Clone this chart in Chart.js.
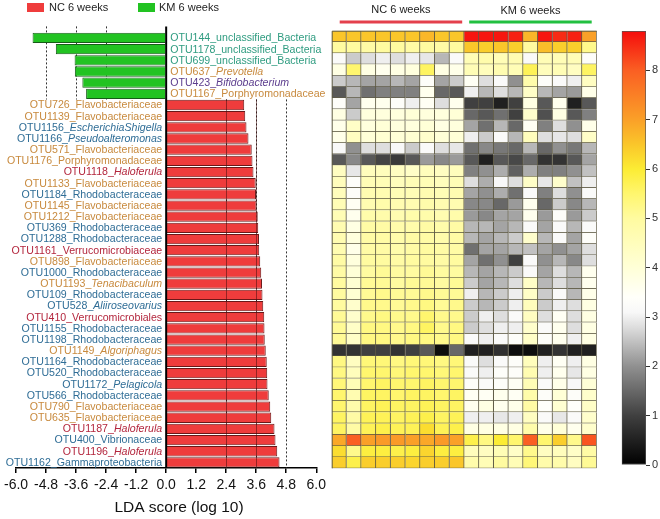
<!DOCTYPE html>
<html lang="en">
<head>
<meta charset="utf-8">
<title>LEfSe NC vs KM 6 weeks</title>
<style>
  body { margin: 0; background: #fff; }
  #wrap { position: relative; width: 660px; height: 519px; overflow: hidden; }
  canvas { position: absolute; top: 0; }
  #ldaChart { left: 0; }
  #heatChart { left: 325px; }
  #scaleChart { left: 605px; }
</style>
</head>
<body>
<div id="wrap">
  <canvas id="ldaChart" width="330" height="519"></canvas>
  <canvas id="heatChart" width="280" height="519"></canvas>
  <canvas id="scaleChart" width="55" height="519"></canvas>
</div>

<script src="https://cdn.jsdelivr.net/npm/chart.js@4.4.1/dist/chart.umd.min.js"></script>
<script>
// ---- data ----
const otuIds = ['OTU144','OTU1178','OTU699','OTU637','OTU423','OTU1167','OTU726','OTU1139','OTU1156','OTU1166',
  'OTU571','OTU1176','OTU1118','OTU1133','OTU1184','OTU1145','OTU1212','OTU369','OTU1288','OTU1161',
  'OTU898','OTU1000','OTU1193','OTU109','OTU528','OTU410','OTU1155','OTU1198','OTU1149','OTU1164',
  'OTU520','OTU1172','OTU566','OTU790','OTU635','OTU1187','OTU400','OTU1196','OTU1162'];

const taxa = ['unclassified_Bacteria','unclassified_Bacteria','unclassified_Bacteria','Prevotella','Bifidobacterium',
  'Porphyromonadaceae','Flavobacteriaceae','Flavobacteriaceae','EscherichiaShigella','Pseudoalteromonas',
  'Flavobacteriaceae','Porphyromonadaceae','Haloferula','Flavobacteriaceae','Rhodobacteraceae',
  'Flavobacteriaceae','Flavobacteriaceae','Rhodobacteraceae','Rhodobacteraceae','Verrucomicrobiaceae',
  'Flavobacteriaceae','Rhodobacteraceae','Tenacibaculum','Rhodobacteraceae','Aliiroseovarius',
  'Verrucomicrobiales','Rhodobacteraceae','Rhodobacteraceae','Algoriphagus','Rhodobacteraceae',
  'Rhodobacteraceae','Pelagicola','Rhodobacteraceae','Flavobacteriaceae','Flavobacteriaceae',
  'Haloferula','Vibrionaceae','Haloferula','Gammaproteobacteria'];

// genus-level names are set in italics
const isGenus = [false,false,false,true,true,false,false,false,true,true,
  false,false,true,false,false,false,false,false,false,false,
  false,false,true,false,true,false,false,false,true,false,
  false,true,false,false,false,true,false,true,false];

const phylum = ['Unclassified','Unclassified','Unclassified','Bacteroidetes','Actinobacteria','Bacteroidetes',
  'Bacteroidetes','Bacteroidetes','Proteobacteria','Proteobacteria','Bacteroidetes','Bacteroidetes',
  'Verrucomicrobia','Bacteroidetes','Proteobacteria','Bacteroidetes','Bacteroidetes','Proteobacteria',
  'Proteobacteria','Verrucomicrobia','Bacteroidetes','Proteobacteria','Bacteroidetes','Proteobacteria',
  'Proteobacteria','Verrucomicrobia','Proteobacteria','Proteobacteria','Bacteroidetes','Proteobacteria',
  'Proteobacteria','Proteobacteria','Proteobacteria','Bacteroidetes','Bacteroidetes','Verrucomicrobia',
  'Proteobacteria','Verrucomicrobia','Proteobacteria'];

const enrichedIn = ['KM','KM','KM','KM','KM','KM'].concat(Array(33).fill('NC'));

const ldaScore = [5.34, 4.41, 3.66, 3.65, 3.35, 3.20,
  3.12, 3.16, 3.21, 3.29, 3.42, 3.45, 3.49, 3.58, 3.59, 3.61, 3.66, 3.68, 3.71, 3.72,
  3.76, 3.80, 3.83, 3.85, 3.88, 3.92, 3.93, 3.94, 3.98, 4.02, 4.04, 4.05, 4.10, 4.16,
  4.20, 4.33, 4.37, 4.44, 4.53];

const groupNames = ['NC 6 weeks', 'KM 6 weeks'];
const sampleNames = ['NC1','NC2','NC3','NC4','NC5','NC6','NC7','NC8','NC9',
  'KM1','KM2','KM3','KM4','KM5','KM6','KM7','KM8','KM9'];

// log abundance per OTU row, NC samples
const ncAbundance = [
  [6.5,6.5,6.5,6.5,6.5,6.5,6.7,6.5,6.5],
  [5.0,5.0,4.9,5.0,5.0,4.9,5.0,4.9,5.0],
  [3.2,2.6,2.8,3.0,2.8,3.0,2.9,2.4,3.2],
  [3.8,5.5,3.8,3.6,3.8,3.9,5.6,3.8,3.7],
  [2.6,2.4,2.2,2.2,2.4,2.2,3.3,2.2,2.6],
  [1.3,2.4,1.6,1.8,1.8,1.8,3.6,1.5,1.3],
  [3.3,2.2,3.6,3.6,3.3,3.0,3.5,2.8,3.6],
  [3.8,2.6,3.9,3.9,3.9,4.0,3.9,3.9,4.0],
  [3.7,4.3,3.9,4.0,3.9,3.9,4.0,3.8,3.9],
  [3.7,4.4,4.0,4.1,4.0,4.1,4.2,4.0,4.0],
  [3.1,2.0,2.8,2.8,3.1,2.6,3.2,2.8,2.9],
  [1.3,1.9,1.3,1.05,0.9,1.3,2.1,1.9,2.1],
  [4.4,2.9,4.5,4.5,4.4,4.3,4.5,4.4,4.5],
  [4.5,3.3,4.6,4.6,4.5,4.6,4.6,4.5,4.6],
  [4.5,3.3,4.7,4.7,4.6,4.6,4.7,4.6,4.7],
  [4.6,3.5,4.7,4.8,4.7,4.7,4.8,4.7,4.7],
  [4.6,3.6,4.8,4.8,4.7,4.8,4.8,4.7,4.8],
  [4.7,3.8,4.9,4.9,4.8,4.8,4.9,4.8,4.9],
  [4.7,3.9,4.9,4.9,4.8,4.9,4.9,4.8,4.9],
  [4.7,3.7,4.9,4.9,4.8,4.9,5.0,4.9,4.9],
  [4.9,3.9,5.0,5.0,4.9,5.0,5.0,4.9,5.0],
  [4.9,4.0,5.0,5.1,5.0,5.0,5.1,5.0,5.0],
  [5.0,4.1,5.1,5.1,5.0,5.1,5.1,5.0,5.1],
  [5.0,4.1,5.1,5.2,5.1,5.1,5.2,5.1,5.1],
  [5.0,4.2,5.2,5.2,5.1,5.2,5.3,5.1,5.2],
  [5.1,4.2,5.2,5.3,5.2,5.2,5.5,5.2,5.2],
  [5.1,4.3,5.3,5.3,5.2,5.3,5.6,5.2,5.3],
  [5.1,4.3,5.3,5.3,5.2,5.3,5.3,5.2,5.3],
  [0.8,0.8,1.0,1.0,0.8,1.0,1.3,0.2,1.5],
  [5.3,4.4,5.4,5.4,5.3,5.4,5.4,5.3,5.4],
  [5.3,4.5,5.5,5.5,5.4,5.5,5.5,5.4,5.5],
  [5.4,4.6,5.5,5.6,5.5,5.5,5.6,5.5,5.5],
  [5.5,4.7,5.6,5.6,5.5,5.6,5.6,5.5,5.6],
  [5.5,4.8,5.6,5.7,5.6,5.6,5.7,5.6,5.6],
  [5.6,4.9,5.7,5.7,5.6,5.7,5.8,5.6,5.7],
  [5.6,4.9,5.7,5.8,5.7,5.7,6.2,5.7,5.8],
  [6.9,8.0,7.0,7.1,7.1,7.0,6.9,7.1,7.0],
  [6.2,5.2,5.9,5.9,5.8,5.9,6.3,5.9,5.9],
  [6.4,5.8,6.4,6.4,6.4,6.3,6.4,6.4,6.5]
];

// log abundance per OTU row, KM samples
const kmAbundance = [
  [8.7,8.7,8.7,8.6,6.7,8.7,8.5,8.6,7.0],
  [6.5,6.4,6.5,6.4,5.0,6.6,6.4,6.4,5.2],
  [4.6,4.8,4.6,4.7,3.2,4.6,4.6,4.6,3.3],
  [4.6,4.5,4.7,4.6,5.7,4.5,4.6,4.4,5.6],
  [3.5,2.8,3.2,2.0,4.8,3.3,3.2,3.0,4.4],
  [3.0,2.4,2.8,2.4,4.3,2.4,2.2,2.1,3.7],
  [1.0,1.0,0.5,1.0,3.8,1.3,3.6,0.5,1.3],
  [1.5,1.3,1.6,1.0,4.2,1.2,3.8,1.3,1.8],
  [2.2,1.6,2.4,1.5,3.5,1.8,2.8,2.0,3.7],
  [3.0,2.6,3.2,2.4,4.5,2.8,2.9,2.8,4.3],
  [1.6,1.9,1.7,1.5,2.4,1.5,2.0,1.7,2.4],
  [1.3,0.5,1.3,1.1,1.5,0.8,0.8,1.3,2.2],
  [1.8,2.0,2.3,1.4,2.3,1.8,1.8,2.0,2.5],
  [2.8,2.3,3.1,2.8,4.3,2.9,4.2,2.5,3.0],
  [2.2,2.0,2.3,1.6,3.2,1.8,2.8,2.0,3.2],
  [1.9,1.9,1.5,2.1,3.6,1.5,2.6,1.9,2.4],
  [2.1,1.9,2.2,2.2,3.6,2.1,3.3,2.1,2.6],
  [2.4,2.4,2.2,2.4,3.2,2.2,3.2,2.4,3.2],
  [2.4,2.2,2.4,2.6,4.2,2.4,3.2,2.2,3.3],
  [1.6,2.2,2.2,2.4,2.5,2.2,2.0,2.2,2.8],
  [2.2,1.6,2.0,1.0,3.2,2.0,2.4,1.9,2.8],
  [2.4,2.2,2.4,2.6,3.2,2.2,2.8,2.4,3.6],
  [2.6,2.2,2.4,2.8,4.3,2.4,2.8,2.4,3.6],
  [3.0,2.4,2.6,3.0,4.3,2.6,3.2,2.4,3.7],
  [2.6,2.4,2.6,3.0,4.5,2.6,3.0,2.8,3.8],
  [2.6,3.0,2.8,3.2,4.4,2.8,3.5,2.8,3.8],
  [2.6,2.8,3.0,3.0,4.2,3.2,3.6,2.8,3.8],
  [3.2,3.0,3.2,3.3,4.3,3.3,3.6,3.0,3.8],
  [0.5,0.5,0.75,0.2,0.2,0.5,0.8,0.5,0.5],
  [3.2,2.8,3.2,3.3,4.5,3.0,3.5,3.0,3.8],
  [3.2,3.0,3.3,3.3,4.7,3.0,3.6,2.9,3.8],
  [3.3,3.2,3.3,3.5,4.6,3.2,3.7,3.1,4.0],
  [3.5,3.5,3.6,3.5,4.8,3.3,4.0,3.3,4.2],
  [3.6,3.8,3.6,3.7,4.9,3.4,4.1,3.4,4.3],
  [3.0,3.0,2.9,3.0,4.4,3.2,2.9,3.2,4.2],
  [3.8,3.8,3.8,3.8,4.8,3.7,4.0,3.6,4.2],
  [5.8,5.3,6.0,5.5,8.0,5.5,6.4,5.2,8.1],
  [4.5,4.4,4.6,4.3,5.2,4.4,4.5,4.3,4.9],
  [4.8,4.6,5.0,4.6,5.4,4.8,4.8,4.4,5.1]
];

const colorMax = 8.8;
const referenceLines = [-4.8, -3.6, -2.4, 2.4, 3.6, 4.8];

// ---- styles ----
const FONT = '"Liberation Sans", Arial, sans-serif';
const NC_RED = '#ef3c3c';
const KM_GREEN = '#22c322';
const phylumColor = {
  Unclassified: '#2f9c80',
  Bacteroidetes: '#c88a3e',
  Actinobacteria: '#5c3d8e',
  Proteobacteria: '#2f6d96',
  Verrucomicrobia: '#b3263d'
};
// value -> colour stops of the heat scale
const colorStops = [
  [0,   [0,0,0]],
  [1,   [64,64,64]],
  [2,   [144,144,144]],
  [2.8, [222,222,222]],
  [3.1, [248,248,248]],
  [3.4, [255,255,250]],
  [4,   [255,255,215]],
  [5,   [255,251,160]],
  [5.5, [255,246,110]],
  [6,   [252,236,52]],
  [6.5, [250,198,42]],
  [7,   [250,160,40]],
  [8,   [250,95,35]],
  [8.8, [245,12,12]]
];

function heatColor(v) {
  for (let k = 1; k < colorStops.length; k++) {
    if (v <= colorStops[k][0]) {
      const [v0, c0] = colorStops[k - 1];
      const [v1, c1] = colorStops[k];
      const t = Math.max(0, (v - v0) / (v1 - v0));
      const c = c0.map((a, i) => Math.round(a + (c1[i] - a) * t));
      return 'rgb(' + c.join(',') + ')';
    }
  }
  return 'rgb(' + colorStops[colorStops.length - 1][1].join(',') + ')';
}

// ---- LDA bar chart ----
const ldaDecor = {
  id: 'ldaDecor',
  beforeDatasetsDraw(chart) {
    const { ctx, chartArea, scales: { x, y } } = chart;
    const split = y.getPixelForValue(5.5);
    ctx.save();
    ctx.strokeStyle = '#333';
    ctx.lineWidth = 1;
    ctx.setLineDash([2, 2]);
    referenceLines.forEach(v => {
      const px = Math.round(x.getPixelForValue(v)) + 0.5;
      ctx.beginPath();
      if (v < 0) { ctx.moveTo(px, chartArea.top - 6); ctx.lineTo(px, split); }
      else { ctx.moveTo(px, split); ctx.lineTo(px, chartArea.bottom); }
      ctx.stroke();
    });
    ctx.restore();
  },
  afterDatasetsDraw(chart) {
    const { ctx, chartArea, scales: { x, y } } = chart;
    const x0 = x.getPixelForValue(0);
    ctx.save();
    // faint marks of the reference lines through the red bars
    ctx.strokeStyle = 'rgba(60,10,10,0.5)';
    ctx.lineWidth = 1;
    [2.4, 3.6].forEach(v => {
      const px = Math.round(x.getPixelForValue(v)) + 0.5;
      ctx.beginPath();
      ctx.moveTo(px, y.getPixelForValue(5.5));
      ctx.lineTo(px, chartArea.bottom);
      ctx.stroke();
    });
    // zero axis
    ctx.strokeStyle = '#000';
    ctx.lineWidth = 2;
    ctx.beginPath();
    ctx.moveTo(x0, chartArea.top - 6);
    ctx.lineTo(x0, chartArea.bottom);
    ctx.stroke();

    // OTU labels
    const fs = 10.6;
    const normalFont = fs + 'px ' + FONT;
    const italicFont = 'italic ' + fs + 'px ' + FONT;
    ctx.textBaseline = 'middle';
    ctx.textAlign = 'left';
    otuIds.forEach((id, i) => {
      const yc = y.getPixelForValue(i) + 0.5;
      const head = id + '_';
      const tail = taxa[i];
      ctx.font = normalFont;
      const w1 = ctx.measureText(head).width;
      ctx.font = isGenus[i] ? italicFont : normalFont;
      const w2 = ctx.measureText(tail).width;
      const start = enrichedIn[i] === 'KM' ? x0 + 4 : x0 - 4 - (w1 + w2);
      ctx.fillStyle = phylumColor[phylum[i]];
      ctx.font = normalFont;
      ctx.fillText(head, start, yc);
      ctx.font = isGenus[i] ? italicFont : normalFont;
      ctx.fillText(tail, start + w1, yc);
    });

    // legend
    ctx.font = '11px ' + FONT;
    ctx.fillStyle = NC_RED;
    ctx.fillRect(27, 3, 17, 9);
    ctx.fillStyle = KM_GREEN;
    ctx.fillRect(138, 3, 17, 9);
    ctx.fillStyle = '#222';
    ctx.fillText(groupNames[0], 49, 8);
    ctx.fillText(groupNames[1], 159, 8);

    // axis title
    ctx.font = '15.5px ' + FONT;
    ctx.textAlign = 'center';
    ctx.fillStyle = '#111';
    ctx.fillText('LDA score (log 10)', 179, 508);
    ctx.restore();
  }
};

new Chart(document.getElementById('ldaChart'), {
  type: 'bar',
  data: {
    labels: otuIds,
    datasets: [
      {
        label: groupNames[0],
        data: ldaScore.map((s, i) => enrichedIn[i] === 'NC' ? s : null),
        backgroundColor: NC_RED,
        borderColor: '#6a1818',
        borderWidth: 1,
        grouped: false,
        barPercentage: 0.92,
        categoryPercentage: 1
      },
      {
        label: groupNames[1],
        data: ldaScore.map((s, i) => enrichedIn[i] === 'KM' ? -s : null),
        backgroundColor: KM_GREEN,
        borderColor: '#165c18',
        borderWidth: 1,
        grouped: false,
        barPercentage: 0.92,
        categoryPercentage: 1
      }
    ]
  },
  options: {
    indexAxis: 'y',
    responsive: false,
    animation: false,
    layout: { padding: { top: 32.4, bottom: 27, left: 12, right: 11 } },
    plugins: { legend: { display: false }, tooltip: { enabled: false } },
    scales: {
      x: {
        min: -6, max: 6,
        afterFit(scale) { scale.height = 24; },
        ticks: {
          stepSize: 1.2,
          padding: 4,
          color: '#111',
          font: { family: FONT, size: 14 },
          callback: v => (Math.abs(v) < 1e-9 ? 0 : v).toFixed(1)
        },
        grid: { drawOnChartArea: false, drawTicks: true, tickLength: 5, color: '#000', lineWidth: 1.5 },
        border: { display: true, color: '#000', width: 1.5 }
      },
      y: { display: false }
    }
  },
  plugins: [ldaDecor]
});

// ---- heatmap ----
const abundance = ncAbundance.map((row, i) => row.concat(kmAbundance[i]));

const heatDecor = {
  id: 'heatDecor',
  afterDatasetsDraw(chart) {
    const { ctx, chartArea, scales: { x } } = chart;
    ctx.save();
    ctx.strokeStyle = '#5e5a44';
    ctx.lineWidth = 1;
    ctx.beginPath();
    ctx.moveTo(chartArea.left + 0.5, chartArea.bottom);
    ctx.lineTo(chartArea.left + 0.5, chartArea.top + 0.5);
    ctx.lineTo(chartArea.right, chartArea.top + 0.5);
    ctx.stroke();

    const ncL = x.getPixelForValue(0) + 8, ncR = x.getPixelForValue(9) - 2;
    const kmL = x.getPixelForValue(9) + 5, kmR = x.getPixelForValue(18) - 5;
    ctx.lineWidth = 3;
    ctx.strokeStyle = '#e4404c';
    ctx.beginPath(); ctx.moveTo(ncL, 22); ctx.lineTo(ncR, 22); ctx.stroke();
    ctx.strokeStyle = '#22c040';
    ctx.beginPath(); ctx.moveTo(kmL, 22); ctx.lineTo(kmR, 22); ctx.stroke();

    ctx.font = '11px ' + FONT;
    ctx.fillStyle = '#222';
    ctx.textAlign = 'center';
    ctx.textBaseline = 'middle';
    ctx.fillText(groupNames[0], (ncL + ncR) / 2, 10);
    ctx.fillText(groupNames[1], (kmL + kmR) / 2, 11);
    ctx.restore();
  }
};

new Chart(document.getElementById('heatChart'), {
  type: 'bar',
  data: {
    labels: otuIds,
    datasets: sampleNames.map((name, j) => ({
      label: name,
      data: otuIds.map(() => 1),
      backgroundColor: abundance.map(row => heatColor(row[j])),
      borderColor: '#5e5a44',
      borderWidth: { top: 0, left: 0, right: 1, bottom: 1 },
      borderSkipped: false,
      barPercentage: 1,
      categoryPercentage: 1
    }))
  },
  options: {
    indexAxis: 'y',
    responsive: false,
    animation: false,
    layout: { padding: { top: 30.7, bottom: 50.7, left: 6.7, right: 8.3 } },
    plugins: { legend: { display: false }, tooltip: { enabled: false } },
    scales: {
      x: { stacked: true, min: 0, max: sampleNames.length, display: false },
      y: { stacked: true, display: false }
    }
  },
  plugins: [heatDecor]
});

// ---- colour scale ----
new Chart(document.getElementById('scaleChart'), {
  type: 'bar',
  data: {
    labels: ['scale'],
    datasets: [{
      data: [[0, colorMax]],
      backgroundColor(c) {
        const { chart } = c;
        if (!chart.chartArea) return '#fff';
        const ys = chart.scales.y;
        const g = chart.ctx.createLinearGradient(0, ys.getPixelForValue(0), 0, ys.getPixelForValue(colorMax));
        colorStops.forEach(([v, col]) => g.addColorStop(v / colorMax, 'rgb(' + col.join(',') + ')'));
        return g;
      },
      borderColor: '#555',
      borderWidth: 1,
      borderSkipped: false,
      barPercentage: 1,
      categoryPercentage: 1
    }]
  },
  options: {
    responsive: false,
    animation: false,
    layout: { padding: { top: 31, bottom: 54, left: 16.7, right: 0 } },
    plugins: { legend: { display: false }, tooltip: { enabled: false } },
    scales: {
      x: { display: false },
      y: {
        position: 'right',
        min: 0, max: colorMax,
        afterFit(scale) { scale.width = 14; },
        ticks: { stepSize: 1, includeBounds: false, padding: 2, color: '#333', font: { family: FONT, size: 11 } },
        grid: { drawOnChartArea: false, drawTicks: true, tickLength: 4, color: '#333' },
        border: { display: false }
      }
    }
  }
});
</script>
</body>
</html>
